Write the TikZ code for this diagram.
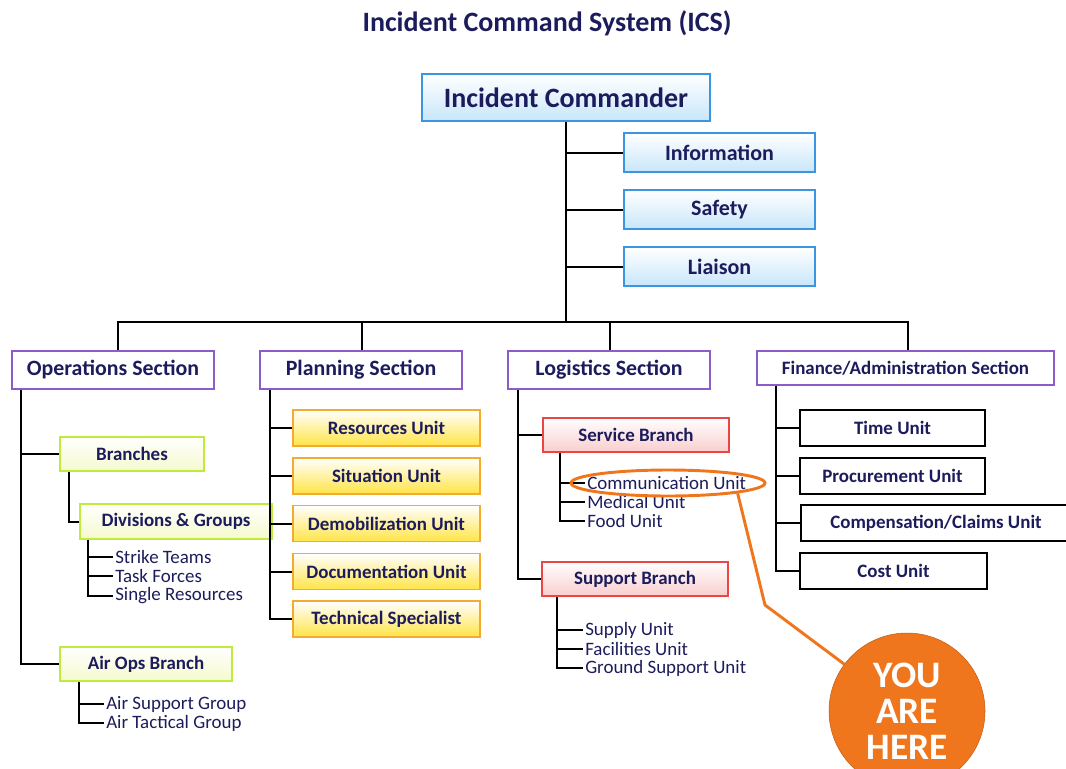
\documentclass[tikz,border=0pt]{standalone}
\usepackage{fontspec}
\setmainfont{Carlito}
\usetikzlibrary{shapes.geometric}
\definecolor{navy}{RGB}{28,28,92}
\definecolor{icblue}{RGB}{58,150,225}
\definecolor{icfill}{RGB}{200,230,250}
\definecolor{secpurple}{RGB}{140,92,200}
\definecolor{lime}{RGB}{190,235,60}
\definecolor{limefill}{RGB}{245,250,205}
\definecolor{unitorange}{RGB}{245,170,50}
\definecolor{unityellow}{RGB}{255,228,70}
\definecolor{brred}{RGB}{235,70,70}
\definecolor{brpink}{RGB}{250,205,205}
\definecolor{callorange}{RGB}{240,118,30}

\begin{document}
\begin{tikzpicture}[x=0.75pt, y=-0.75pt,
    box/.style={rectangle, inner sep=0pt, text=navy, font=\bfseries\fontsize{14.2}{16}\selectfont},
    cmdbox/.style={box, draw=icblue, line width=1.2pt, top color=white, bottom color=icfill},
    secbox/.style={box, draw=secpurple, line width=1.2pt, fill=white, minimum width=151.5pt, minimum height=28.5pt, font=\bfseries\fontsize{16.4}{18}\selectfont},
    opsbox/.style={box, draw=lime, line width=1.2pt, top color=white, bottom color=limefill, minimum height=25.5pt},
    planbox/.style={box, draw=unitorange, line width=1.2pt, top color=white, bottom color=unityellow, minimum width=140.25pt, minimum height=27pt},
    logbox/.style={box, draw=brred, line width=1.2pt, top color=white, bottom color=brpink, minimum width=139.5pt, minimum height=25.5pt},
    finbox/.style={box, draw=black, line width=1.2pt, fill=white, minimum height=27pt},
    item/.style={anchor=west, inner sep=0pt, text=navy, font=\fontsize{14.2}{16}\selectfont},
    link/.style={draw=black, line width=1.5pt},
    ring/.style={ellipse, draw=callorange, line width=2.2pt, minimum width=145.5pt, minimum height=19.5pt, inner sep=0pt},
    callout/.style={draw=callorange, line width=2.2pt},
    herebox/.style={circle, fill=callorange, draw=callorange!80!black, line width=0.4pt, minimum size=117pt, inner sep=0pt, text=white, align=center, font=\bfseries\fontsize{28}{27}\selectfont}]
    \useasboundingbox (0,0) rectangle (1066,768);
    \clip (0,0) rectangle (1066,768);

    \node[box, font=\bfseries\fontsize{21}{24}\selectfont] (title) at (547,23) {Incident Command System (ICS)};

    % command staff
    \node[cmdbox, minimum width=216pt, minimum height=35.25pt, font=\bfseries\fontsize{21}{24}\selectfont] (ic) at (566,97.5) {Incident Commander};
    \node[cmdbox, minimum width=143.25pt, minimum height=29.25pt, font=\bfseries\fontsize{16.5}{18}\selectfont] (info) at (719.5,152.5) {Information};
    \node[cmdbox, minimum width=143.25pt, minimum height=29.25pt, font=\bfseries\fontsize{16.5}{18}\selectfont] (safety) at (719.5,209.5) {Safety};
    \node[cmdbox, minimum width=143.25pt, minimum height=29.25pt, font=\bfseries\fontsize{16.5}{18}\selectfont] (liaison) at (719.5,266.5) {Liaison};

    % general staff
    \node[secbox] (ops) at (113,370) {Operations Section};
    \node[secbox] (plan) at (361,370) {Planning Section};
    \node[secbox] (log) at (609,370) {Logistics Section};
    \node[secbox, minimum width=222.75pt, minimum height=25.5pt, font=\bfseries\fontsize{14.2}{16}\selectfont] (fin) at (905.5,368) {Finance/Administration Section};

    \coordinate (bar) at (566,322);
    \draw[link] (ic.south) -- (bar);
    \foreach \s in {info,safety,liaison}
        \draw[link] (\s.west) -- (\s.west -| ic.south);
    \draw[link] ([xshift=3.75pt]ops.north) |- ([xshift=2pt]fin.north |- bar) -- ([xshift=2pt]fin.north);
    \draw[link] ([xshift=0.75pt]plan.north) -- ([xshift=0.75pt]plan.north |- bar);
    \draw[link] ([xshift=0.75pt]log.north) -- ([xshift=0.75pt]log.north |- bar);

    % operations
    \node[opsbox, minimum width=108pt] (branches) at (132,454) {Branches};
    \node[opsbox, minimum width=144pt, minimum height=26.25pt] (divs) at (176,521.5) {Divisions \& Groups};
    \node[opsbox, minimum width=129pt] (airops) at (146,664) {Air Ops Branch};
    \node[item] (strike) at (115,557) {Strike Teams};
    \node[item] (task) at (115,576) {Task Forces};
    \node[item] (single) at (115,596) {Single Resources};
    \node[item] (airsup) at (106,704) {Air Support Group};
    \node[item] (airtac) at (106,723) {Air Tactical Group};

    \draw[link] ([xshift=7.5pt]ops.south west) |- (branches.west);
    \draw[link] ([xshift=7.5pt]ops.south west) |- (airops.west);
    \draw[link] ([xshift=7.5pt]branches.south west) |- (divs.west);
    \foreach \t in {strike,task,single}
        \draw[link] ([xshift=6.75pt]divs.south west) |- ([xshift=-1.5pt]\t.west);
    \foreach \t in {airsup,airtac}
        \draw[link] ([xshift=15pt]airops.south west) |- ([xshift=-1.5pt]\t.west);

    % planning
    \node[planbox] (resources) at (386.5,428) {Resources Unit};
    \node[planbox] (situation) at (386.5,476) {Situation Unit};
    \node[planbox] (demob) at (386.5,523.5) {Demobilization Unit};
    \node[planbox] (docs) at (386.5,571.5) {Documentation Unit};
    \node[planbox] (techspec) at (386.5,619) {Technical Specialist};
    \foreach \u in {resources,situation,demob,docs,techspec}
        \draw[link] ([xshift=8.25pt]plan.south west) |- (\u.west);

    % logistics
    \node[logbox] (service) at (636,435) {Service Branch};
    \node[logbox] (support) at (635,579) {Support Branch};
    \node[item] (comm) at (587,483) {Communication Unit};
    \node[item] (medical) at (587,502) {Medical Unit};
    \node[item] (food) at (587,521) {Food Unit};
    \node[item] (supply) at (585,630) {Supply Unit};
    \node[item] (facilities) at (585,649) {Facilities Unit};
    \node[item] (ground) at (585,668) {Ground Support Unit};

    \draw[link] ([xshift=8.25pt]log.south west) |- (service.west);
    \draw[link] ([xshift=8.25pt]log.south west) |- (support.west);
    \foreach \t in {comm,medical,food}
        \draw[link] ([xshift=13.5pt]service.south west) |- ([xshift=-1.5pt]\t.west);
    \foreach \t in {supply,facilities,ground}
        \draw[link] ([xshift=12pt]support.south west) |- ([xshift=-1.5pt]\t.west);

    % finance / administration
    \node[finbox, minimum width=138.75pt] (time) at (892.5,428) {Time Unit};
    \node[finbox, minimum width=138.75pt] (procure) at (892.5,476) {Procurement Unit};
    \node[finbox, minimum width=202.5pt] (claims) at (936,523) {Compensation/Claims Unit};
    \node[finbox, minimum width=140.25pt] (cost) at (893.5,571) {Cost Unit};
    \foreach \u in {time,procure,claims,cost}
        \draw[link] ([xshift=15pt]fin.south west) |- (\u.west);

    % you are here
    \node[ring] (ring) at (668,483) {};
    \node[herebox] (here) at (907,711) {YOU\\ARE\\HERE};
    \coordinate (bend) at (765,605);
    \draw[callout] (ring.south east) -- (bend) -- (here);
  \end{tikzpicture}
\end{document}
